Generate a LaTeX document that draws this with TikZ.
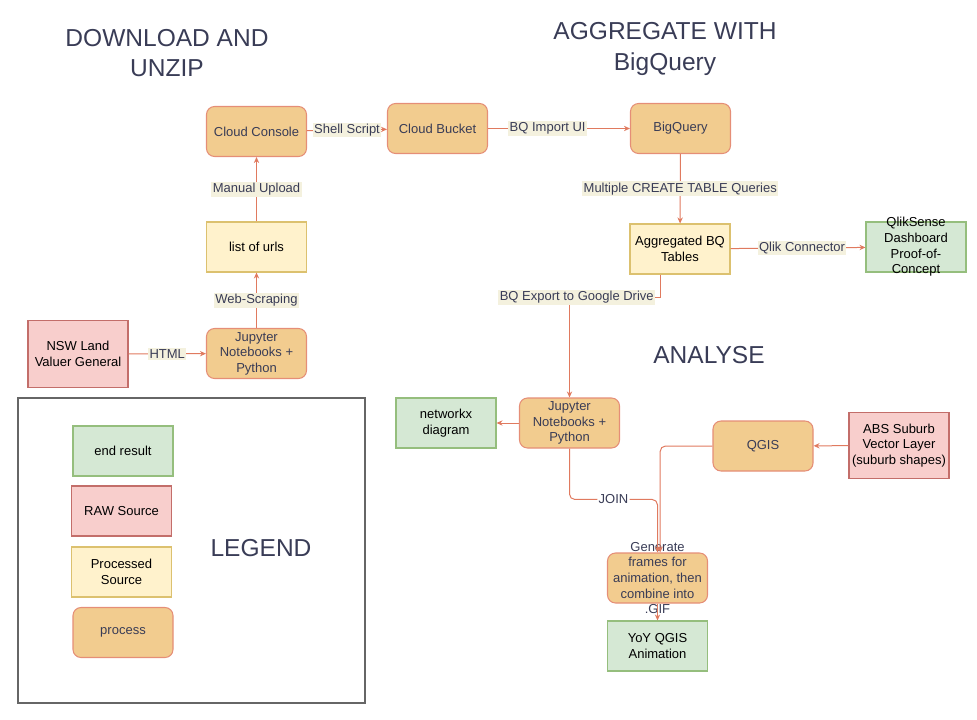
\documentclass[tikz,border=0pt]{standalone}
\usepackage{fontspec}
\setmainfont{Liberation Sans}
\usetikzlibrary{arrows.meta}
\definecolor{procfill}{HTML}{F2CC8F}
\definecolor{procline}{HTML}{E07A5F}
\definecolor{ink}{HTML}{393C56}
\definecolor{lblback}{HTML}{F4F1DE}
\definecolor{rawfill}{HTML}{F8CECC}
\definecolor{rawline}{HTML}{B85450}
\definecolor{pdfill}{HTML}{FFF2CC}
\definecolor{pdline}{HTML}{D6B656}
\definecolor{endfill}{HTML}{D5E8D4}
\definecolor{endline}{HTML}{82B366}

\begin{document}
\begin{tikzpicture}[-{Stealth[length=4.5pt,width=4pt]}, x=0.75pt, y=-0.75pt,
font=\fontsize{9.75}{11.7}\selectfont,
box/.style={minimum width=75pt, minimum height=37.5pt, inner sep=2pt, align=center, line width=0.8pt},
process/.style={box, rounded corners=6pt, draw=procline!85, fill=procfill, text=ink},
rawsrc/.style={box, draw=rawline!85, fill=rawfill},
procd/.style={box, draw=pdline!85, fill=pdfill},
endres/.style={box, draw=endline!85, fill=endfill},
title/.style={text=ink, align=center, font=\fontsize{18.4}{23}\selectfont},
flow/.style={draw=procline, line width=0.75pt},
lbl/.style={fill=lblback, text=ink, inner sep=1pt}]
  \useasboundingbox (0,0) rectangle (977,720);
  % download and unzip
  \node[title] (t1) at (167,53) {DOWNLOAD AND\\UNZIP};
  \node[process] (console) at (256.5,131.5) {Cloud Console};
  \node[procd] (urls) at (256.5,247) {list of urls};
  \node[process] (jup1) at (256.5,353.5) {Jupyter\\Notebooks +\\Python};
  \node[rawsrc, minimum height=50pt] (nsw) at (78,354) {NSW Land\\Valuer General};
  % aggregate
  \node[title] (t2) at (665,49) {AGGREGATE WITH\\BigQuery};
  \node[process] (bucket) at (437.5,128.5) {Cloud Bucket};
  \node[process] (bq) at (680.5,128.5) {BigQuery};
  \node[procd] (agg) at (680,249) {Aggregated BQ\\Tables};
  \node[endres, inner ysep=-20pt] (qlik) at (916,247) {QlikSense\\Dashboard\\Proof-of-\\Concept};
  % analyse
  \node[title] (t3) at (709,355) {ANALYSE};
  \node[process] (jup2) at (569.5,423) {Jupyter\\Notebooks +\\Python};
  \node[endres] (netx) at (446,423) {networkx\\diagram};
  \node[process] (qgis) at (763,446) {QGIS};
  \node[rawsrc, minimum height=50pt] (abs) at (899,445.5) {ABS Suburb\\Vector Layer\\(suburb shapes)};
  \node[process, inner ysep=-20pt] (gen) at (657.5,578) {Generate\\frames for\\animation, then\\combine into\\.GIF};
  \node[endres] (yoy) at (657.5,646) {YoY QGIS\\Animation};
  % legend
  \draw[-, draw=black!60, line width=1pt] (18,398) rectangle (365,703);
  \node[endres] (l1) at (123,451) {end result};
  \node[rawsrc] (l2) at (121.5,511) {RAW Source};
  \node[procd] (l3) at (121.5,572) {Processed\\Source};
  \node[process] (l4) at (123,632.5) {process};
  \node[title] (t4) at (261,548) {LEGEND};

\foreach \from/\to/\txt/\where in {console/bucket/Shell Script/0.5, bucket/bq/BQ Import UI/0.42,
    bq/agg/Multiple CREATE TABLE Queries/0.5, agg/qlik/Qlik Connector/0.53,
    urls/console/Manual Upload/0.5, jup1/urls/Web-Scraping/0.5, nsw/jup1/HTML/0.5}
    \draw[flow] (\from) -- node[lbl, pos=\where] {\txt} (\to);
\foreach \from/\to in {jup2/netx, abs/qgis, gen/yoy}
    \draw[flow] (\from) -- (\to);
\draw[flow] ([xshift=-15pt]agg.south) |- node[lbl, pos=0.96] {BQ Export to Google Drive} ([yshift=75pt]jup2.north) -- (jup2.north);
\draw[flow, rounded corners=4pt] (jup2.south) |- node[lbl, fill=white, pos=0.75] {JOIN} ([yshift=39.75pt]gen.north) -- (gen.north);
\draw[flow, rounded corners=4pt] (qgis.west) -| ([xshift=2pt]gen.north);
\end{tikzpicture}
\end{document}
